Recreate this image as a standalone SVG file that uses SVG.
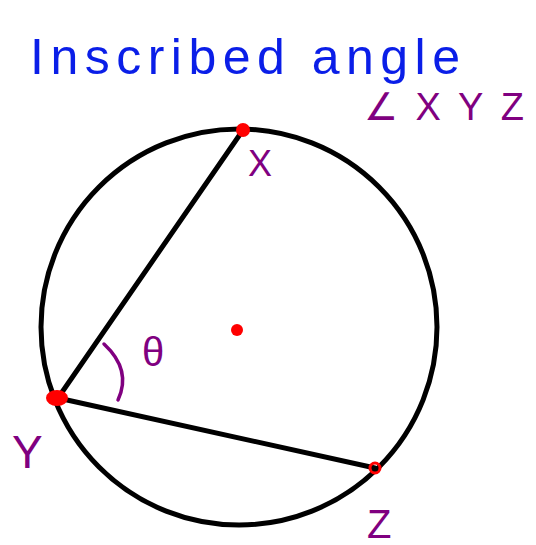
<svg xmlns="http://www.w3.org/2000/svg" width="536" height="545" viewBox="0 0 536 545">
<style>
.ln{stroke:#000;stroke-width:5;fill:none;stroke-linecap:round}
.pt{fill:#ff0000}
.lbl{font-family:"Liberation Sans","DejaVu Sans",sans-serif;fill:#800080}
.title{font-family:"Liberation Sans","DejaVu Sans",sans-serif;fill:#0a1ee8}
</style>
<rect width="536" height="545" fill="#fff"/>
<g id="circle"><circle class="ln" cx="239" cy="327" r="198"/></g>
<g id="connectors">
<line class="ln" x1="243" y1="130" x2="58" y2="398"/>
<line class="ln" x1="58" y1="398" x2="375" y2="468"/>
<path d="M104,344 Q132,370 118,400" stroke="#800080" stroke-width="3.5" fill="none" stroke-linecap="round"/>
</g>
<g id="title"><text class="title" x="30" y="74" font-size="50" textLength="430" lengthAdjust="spacing">Inscribed angle</text></g>
<g id="angle-name"><text class="lbl" x="364" y="120" font-size="38" textLength="160" lengthAdjust="spacing">∠XYZ</text></g>
<g id="X"><circle class="pt" cx="243" cy="130" r="7"/><text class="lbl" x="248" y="176" font-size="36">X</text></g>
<g id="Y"><ellipse class="pt" cx="57" cy="398" rx="11" ry="8"/><text class="lbl" x="12" y="468" font-size="46">Y</text></g>
<g id="Z"><circle cx="375" cy="468" r="5" fill="none" stroke="#ff0000" stroke-width="3"/><text class="lbl" x="367" y="538" font-size="40">Z</text></g>
<g id="center"><circle class="pt" cx="237" cy="330" r="6"/></g>
<g id="theta"><text class="lbl" x="142" y="366" font-size="40">θ</text></g>
</svg>
